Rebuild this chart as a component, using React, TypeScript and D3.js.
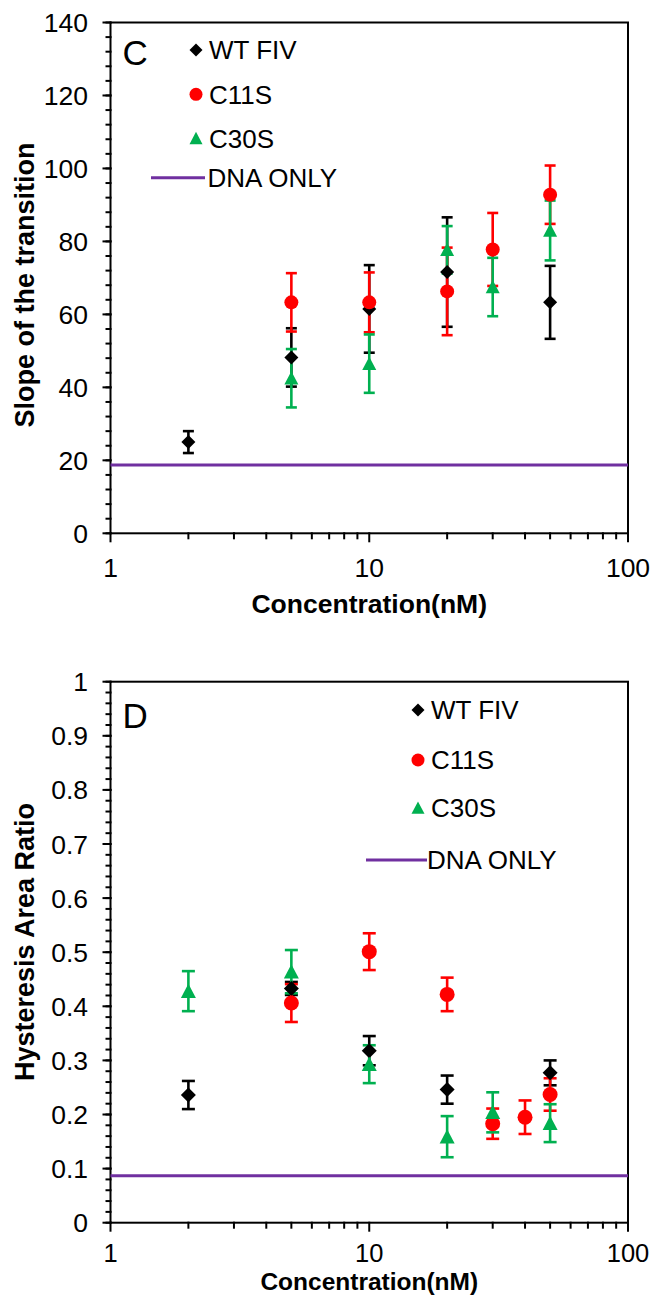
import React from "react";
import * as d3 from "d3";

// ---------- Panel C: Slope of the transition ----------
const wtXC = [2, 5, 10, 20, 50];
const wtYC = [25.0, 48.2, 61.5, 71.6, 63.3];
const wtEC = [3.0, 8.0, 12.0, 15.0, 10.0];
const c11XC = [5, 10, 20, 30, 50];
const c11YC = [63.3, 63.3, 66.3, 77.8, 92.8];
const c11EC = [8.0, 8.2, 12.0, 10.0, 8.0];
const c30XC = [5, 10, 20, 30, 50];
const c30YC = [42.5, 46.5, 77.7, 67.5, 83.0];
const c30EC = [8.0, 8.0, 6.5, 8.0, 8.2];
const dnaC = 18.7;
const yTicksC = [0, 20, 40, 60, 80, 100, 120, 140];

// ---------- Panel D: Hysteresis Area Ratio ----------
const wtXD = [2, 5, 10, 20, 50];
const wtYD = [0.236, 0.433, 0.318, 0.246, 0.277];
const wtED = [0.026, 0.012, 0.027, 0.026, 0.023];
const c11XD = [5, 10, 20, 30, 40, 50];
const c11YD = [0.406, 0.501, 0.422, 0.183, 0.195, 0.237];
const c11ED = [0.035, 0.034, 0.031, 0.028, 0.031, 0.030];
const c30XD = [2, 5, 10, 20, 30, 50];
const c30YD = [0.428, 0.464, 0.293, 0.159, 0.204, 0.184];
const c30ED = [0.037, 0.040, 0.035, 0.038, 0.037, 0.035];
const dnaD = 0.087;
const yTicksD = [0, 0.1, 0.2, 0.3, 0.4, 0.5, 0.6, 0.7, 0.8, 0.9, 1];

const xTickLabels = [1, 10, 100];
const seriesNames = ["WT FIV", "C11S", "C30S", "DNA ONLY"];

const BLACK = "#000000";
const RED = "#FF0000";
const GREEN = "#00B050";
const PURPLE = "#7030A0";
const FONT = "'Liberation Sans', Arial, sans-serif";

type Series = { x: number[]; y: number[]; e: number[]; color: string; shape: string };

function Marker({ shape, cx, cy, color, size }: { shape: string; cx: number; cy: number; color: string; size: number }) {
  const s = size;
  if (shape === "diamond") {
    return <path d={`M${cx},${cy - s}L${cx + s},${cy}L${cx},${cy + s}L${cx - s},${cy}Z`} fill={color} />;
  }
  if (shape === "circle") {
    return <circle cx={cx} cy={cy} r={s} fill={color} />;
  }
  return <path d={`M${cx},${cy - s}L${cx + s},${cy + s * 0.9}L${cx - s},${cy + s * 0.9}Z`} fill={color} />;
}

type PanelProps = {
  top: number;
  bottom: number;
  yMax: number;
  yTicks: number[];
  minorStep: number;
  fmt: (v: number) => string;
  series: Series[];
  dna: number;
  letter: string;
  letterY: number;
  yLabel: string;
  yLabelCenter: number;
  legendX: number;
  legendYs: number[];
  lineX0: number;
  dnaTextX: number;
  xLabelY: number;
  xLabelSize: number;
  tickLabelY: number;
  xTickSize: number;
  markSize: number;
  capW: number;
};

function Panel(p: PanelProps) {
  const left = 110.5;
  const right = 628;
  const x = d3.scaleLog().domain([1, 100]).range([left, right]);
  const y = d3.scaleLinear().domain([0, p.yMax]).range([p.bottom, p.top]);
  const minor = d3.range(0, p.yMax + 1e-9, p.minorStep);
  const xMinor: number[] = [];
  for (const dec of [1, 10]) for (let k = 2; k <= 9; k++) xMinor.push(dec * k);
  return (
    <g>
      <rect x={left} y={p.top} width={right - left} height={p.bottom - p.top} fill="none" stroke="#000" strokeWidth={2} />
      {minor.map((v, i) => (
        <line key={"ym" + i} x1={left - 5} x2={left + 1} y1={y(v)} y2={y(v)} stroke="#000" strokeWidth={2} />
      ))}
      {p.yTicks.map((v, i) => (
        <g key={"yt" + i}>
          <line x1={left - 8} x2={left + 1} y1={y(v)} y2={y(v)} stroke="#000" strokeWidth={2} />
          <text x={88} y={y(v)} dy="0.36em" textAnchor="end" fontSize={26.5} fontFamily={FONT}>
            {p.fmt(v)}
          </text>
        </g>
      ))}
      {xMinor.map((v, i) => (
        <line key={"xm" + i} x1={x(v)} x2={x(v)} y1={p.bottom - 1} y2={p.bottom + 6} stroke="#000" strokeWidth={2} />
      ))}
      {xTickLabels.map((v, i) => (
        <g key={"xt" + i}>
          <line x1={x(v)} x2={x(v)} y1={p.bottom - 1} y2={p.bottom + 9} stroke="#000" strokeWidth={2} />
          <text x={x(v)} y={p.tickLabelY} textAnchor="middle" fontSize={p.xTickSize} fontFamily={FONT}>
            {v}
          </text>
        </g>
      ))}
      <text x={(left + right) / 2} y={p.xLabelY} textAnchor="middle" fontSize={p.xLabelSize} fontWeight="bold" fontFamily={FONT}>
        Concentration(nM)
      </text>
      <text
        transform={`translate(34,${p.yLabelCenter}) rotate(-90)`}
        textAnchor="middle"
        fontSize={27}
        fontWeight="bold"
        fontFamily={FONT}
      >
        {p.yLabel}
      </text>
      <line x1={left} x2={right} y1={y(p.dna)} y2={y(p.dna)} stroke={PURPLE} strokeWidth={3} />
      {p.series.map((s, si) =>
        s.x.map((xv, i) => {
          const cx = x(xv);
          const y1 = y(s.y[i] + s.e[i]);
          const y2 = y(s.y[i] - s.e[i]);
          return (
            <g key={`e${si}-${i}`} stroke={s.color} strokeWidth={2.6}>
              <line x1={cx} x2={cx} y1={y1} y2={y2} />
              <line x1={cx - p.capW} x2={cx + p.capW} y1={y1} y2={y1} />
              <line x1={cx - p.capW} x2={cx + p.capW} y1={y2} y2={y2} />
            </g>
          );
        })
      )}
      {p.series.map((s, si) =>
        s.x.map((xv, i) => (
          <Marker key={`m${si}-${i}`} shape={s.shape} cx={x(xv)} cy={y(s.y[i])} color={s.color} size={p.markSize} />
        ))
      )}
      <text x={left + 12} y={p.letterY} fontSize={35} fontFamily={FONT}>
        {p.letter}
      </text>
      {p.series.map((s, i) => (
        <g key={"lg" + i}>
          <Marker shape={s.shape} cx={p.legendX} cy={p.legendYs[i]} color={s.color} size={6.5} />
          <text x={p.legendX + 13} y={p.legendYs[i]} dy="0.36em" fontSize={26} fontFamily={FONT}>
            {seriesNames[i]}
          </text>
        </g>
      ))}
      <line x1={p.lineX0} x2={p.legendX + 9} y1={p.legendYs[3]} y2={p.legendYs[3]} stroke={PURPLE} strokeWidth={3} />
      <text x={p.dnaTextX} y={p.legendYs[3]} dy="0.36em" fontSize={26} fontFamily={FONT}>
        {seriesNames[3]}
      </text>
    </g>
  );
}

export default function App() {
  const seriesC: Series[] = [
    { x: wtXC, y: wtYC, e: wtEC, color: BLACK, shape: "diamond" },
    { x: c11XC, y: c11YC, e: c11EC, color: RED, shape: "circle" },
    { x: c30XC, y: c30YC, e: c30EC, color: GREEN, shape: "triangle" },
  ];
  const seriesD: Series[] = [
    { x: wtXD, y: wtYD, e: wtED, color: BLACK, shape: "diamond" },
    { x: c11XD, y: c11YD, e: c11ED, color: RED, shape: "circle" },
    { x: c30XD, y: c30YD, e: c30ED, color: GREEN, shape: "triangle" },
  ];
  return (
    <svg width={650} height={1295} style={{ position: "absolute", left: 0, top: 0, background: "#fff" }}>
      <rect width={650} height={1295} fill="#fff" />
      <Panel
        top={22.5}
        bottom={533.3}
        yMax={140}
        yTicks={yTicksC}
        minorStep={4}
        fmt={(v) => String(v)}
        series={seriesC}
        dna={dnaC}
        letter="C"
        letterY={65}
        yLabel="Slope of the transition"
        yLabelCenter={285}
        legendX={196}
        legendYs={[50, 94.3, 138.3, 177.7]}
        lineX0={151}
        dnaTextX={207.5}
        xLabelY={613}
        xLabelSize={26.5}
        tickLabelY={576.5}
        xTickSize={26.5}
        markSize={7}
        capW={5.5}
      />
      <Panel
        top={681.7}
        bottom={1222.7}
        yMax={1}
        yTicks={yTicksD}
        minorStep={0.02}
        fmt={(v) => (v === 0 || v === 1 ? String(v) : v.toFixed(1))}
        series={seriesD}
        dna={dnaD}
        letter="D"
        letterY={727.5}
        yLabel="Hysteresis Area Ratio"
        yLabelCenter={942}
        legendX={418}
        legendYs={[710, 760, 808, 860]}
        lineX0={366}
        dnaTextX={427}
        xLabelY={1289.5}
        xLabelSize={24.5}
        tickLabelY={1262}
        xTickSize={25.5}
        markSize={7.5}
        capW={6.5}
      />
    </svg>
  );
}
